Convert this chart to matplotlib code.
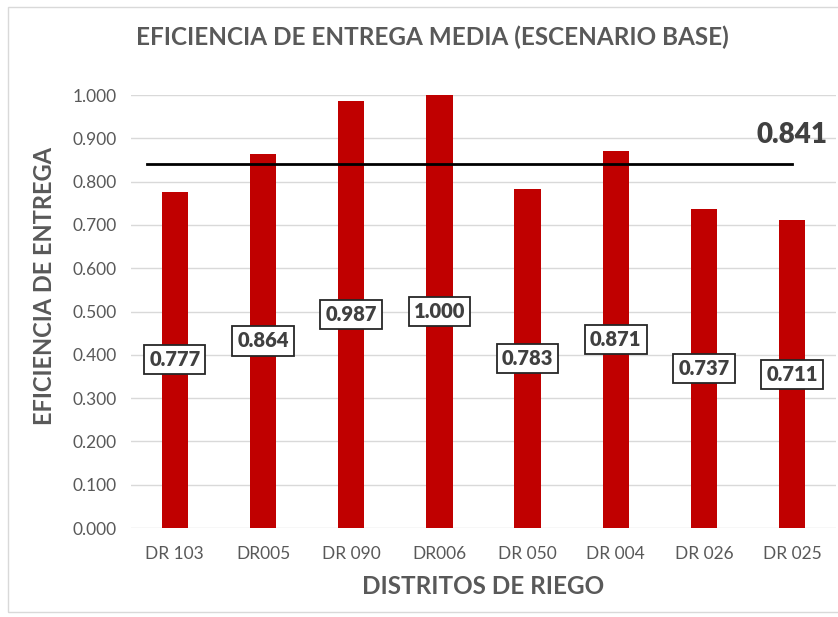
import matplotlib.pyplot as plt
from matplotlib.patches import Rectangle

plt.rcParams["font.family"] = ["Lato", "DejaVu Sans"]

# Eficiencia de entrega media por distrito de riego
distritos = ["DR 103", "DR005", "DR 090", "DR006", "DR 050", "DR 004", "DR 026", "DR 025"]
eficiencia = [0.777, 0.864, 0.987, 1.000, 0.783, 0.871, 0.737, 0.711]
media = 0.841
yticks = [0.0, 0.1, 0.2, 0.3, 0.4, 0.5, 0.6, 0.7, 0.8, 0.9, 1.0]

gris = "#595959"

fig = plt.figure(figsize=(8.38, 6.17), dpi=100)
ax = fig.add_axes([0.156, 0.1442, 0.842, 0.7018])

x = list(range(len(distritos)))
ax.bar(x, eficiencia, width=0.3, color="#C00000", zorder=2)

# etiquetas de valor en cajas, a media altura de cada barra
for xi, v in zip(x, eficiencia):
    ax.text(xi, v / 2, f"{v:.3f}", ha="center", va="center", fontsize=14.5,
            fontweight="heavy", color="#404040", zorder=4,
            bbox=dict(boxstyle="square,pad=0.25", fc="white", ec="#262626", lw=1.3))

# línea de la media general
ax.plot([-0.32, len(distritos) - 1], [media, media], color="black", lw=2, zorder=3)
ax.text(len(distritos) - 1, media + 0.067, f"{media:.3f}", ha="center", va="center",
        fontsize=20, fontweight="heavy", color="#404040")

ax.set_xlim(-0.5, len(distritos) - 0.5)
ax.set_ylim(0, 1.0)
ax.set_yticks(yticks)
ax.set_yticklabels([f"{t:.3f}" for t in yticks])
ax.set_xticks(x)
ax.set_xticklabels(distritos)
ax.tick_params(axis="both", length=0, labelsize=12.5, labelcolor=gris)
ax.tick_params(axis="x", pad=13)
ax.tick_params(axis="y", pad=10)
ax.grid(axis="y", color="#D9D9D9", lw=1, zorder=0)
for s in ax.spines.values():
    s.set_visible(False)

ax.set_xlabel("DISTRITOS DE RIEGO", fontsize=17.5, fontweight="bold", color=gris, labelpad=9)
ax.set_ylabel("EFICIENCIA DE ENTREGA", fontsize=17, fontweight="bold", color=gris)
ax.yaxis.set_label_coords(-0.106, 0.56)
fig.text(0.516, 0.94, "EFICIENCIA DE ENTREGA MEDIA (ESCENARIO BASE)", ha="center",
         va="center", fontsize=17.5, fontweight="bold", color=gris)

# marco del gráfico
fig.patches.append(Rectangle((8 / 838, 5 / 617), 1.0, 1 - 12 / 617, transform=fig.transFigure,
                             fill=False, ec="#D9D9D9", lw=1))

fig.savefig("out.png", dpi=100)
